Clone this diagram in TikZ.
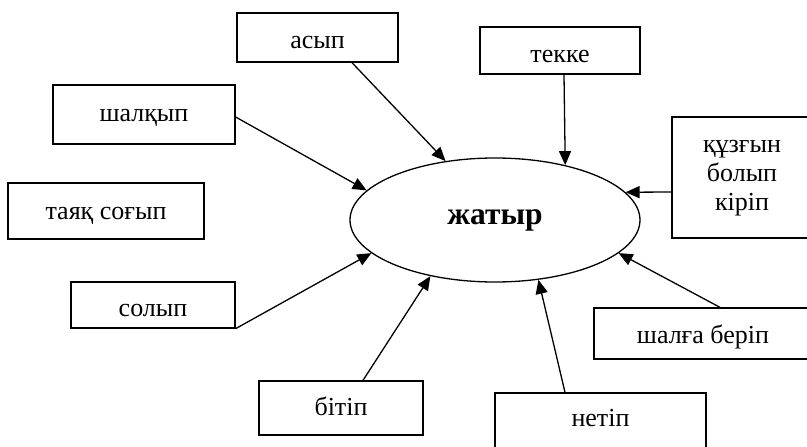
\documentclass[tikz,border=0pt]{standalone}
\usepackage{fontspec}
\setmainfont{Liberation Serif}
\usetikzlibrary{shapes.geometric,arrows.meta}
\tikzset{
  box/.style={draw, line width=1.3pt, rectangle, inner sep=0pt},
  txtbase/.style={inner sep=0pt, align=center, font=\fontsize{26}{29}\selectfont},
  txt/.style={txtbase, text height=11pt, text depth=0pt},
  arr/.style={line width=1.3pt, -{Triangle[length=14pt,width=12pt]}},
}
\begin{document}
\begin{tikzpicture}[x=1pt,y=-1pt]
\useasboundingbox (0,0) rectangle (807,447);
\clip (0,0) rectangle (807,447);
\node[draw, ellipse, line width=1.3pt, minimum width=290pt, minimum height=124pt, inner sep=0pt,
      font=\fontsize{31.5}{33}\selectfont\bfseries] (zh) at (495,220) {жатыр};
\node[box, minimum width=161pt, minimum height=49pt] (asyp) at (317.5,37.5) {};
\node[box, minimum width=182pt, minimum height=59pt] (shalqyp) at (144,114.5) {};
\node[box, minimum width=196pt, minimum height=56pt] (tayaq) at (106,211) {};
\node[box, minimum width=160pt, minimum height=47pt] (tekke) at (560,50.5) {};
\node[box, minimum width=140pt, minimum height=121pt] (quz) at (742,177.5) {};
\node[box, minimum width=164pt, minimum height=46pt] (solyp) at (153,305) {};
\node[box, minimum width=164pt, minimum height=54pt] (bitip) at (341,408) {};
\node[box, minimum width=218pt, minimum height=51pt] (shalga) at (703,333.5) {};
\node[box, minimum width=211pt, minimum height=58pt] (netip) at (600.5,422) {};
\node[txt] (tasyp) at ([yshift=-5pt]asyp.center) {асып};
\node[txt] (tshalqyp) at ([yshift=-1pt]shalqyp.center) {шалқып};
\node[txt] (ttayaq) at ([yshift=-3pt]tayaq.center) {таяқ соғып};
\node[txt] (ttekke) at ([yshift=-6pt]tekke.center) {текке};
\node[txtbase] (tquz) at ([yshift=-1pt]quz.center) {құзғын\\болып\\кіріп};
\node[txt] (tsolyp) at ([yshift=-5.5pt]solyp.center) {солып};
\node[txt] (tbitip) at ([yshift=-1.5pt]bitip.center) {бітіп};
\node[txt] (tshalga) at ([yshift=-4.5pt]shalga.center) {шалға беріп};
\node[txt] (tnetip) at ([yshift=1.5pt]netip.center) {нетіп};
\draw[arr] ([xshift=34.5pt]asyp.south) -- (zh.130);
\draw[arr] ([yshift=-2.5pt]shalqyp.east) -- (zh.167);
\draw[arr] ([xshift=4pt]tekke.south) -- (zh.38.3);
\draw[arr] ([yshift=-14.5pt]quz.west) -- (zh.12);
\draw[arr] (solyp.south east) -- (zh.195.6);
\draw[arr] ([xshift=22pt]bitip.north) -- (zh.221);
\draw[arr] ([xshift=-35.5pt]netip.north) -- (zh.306);
\draw[arr] ([xshift=17pt]shalga.north) -- (zh.345.6);
\end{tikzpicture}
\end{document}
